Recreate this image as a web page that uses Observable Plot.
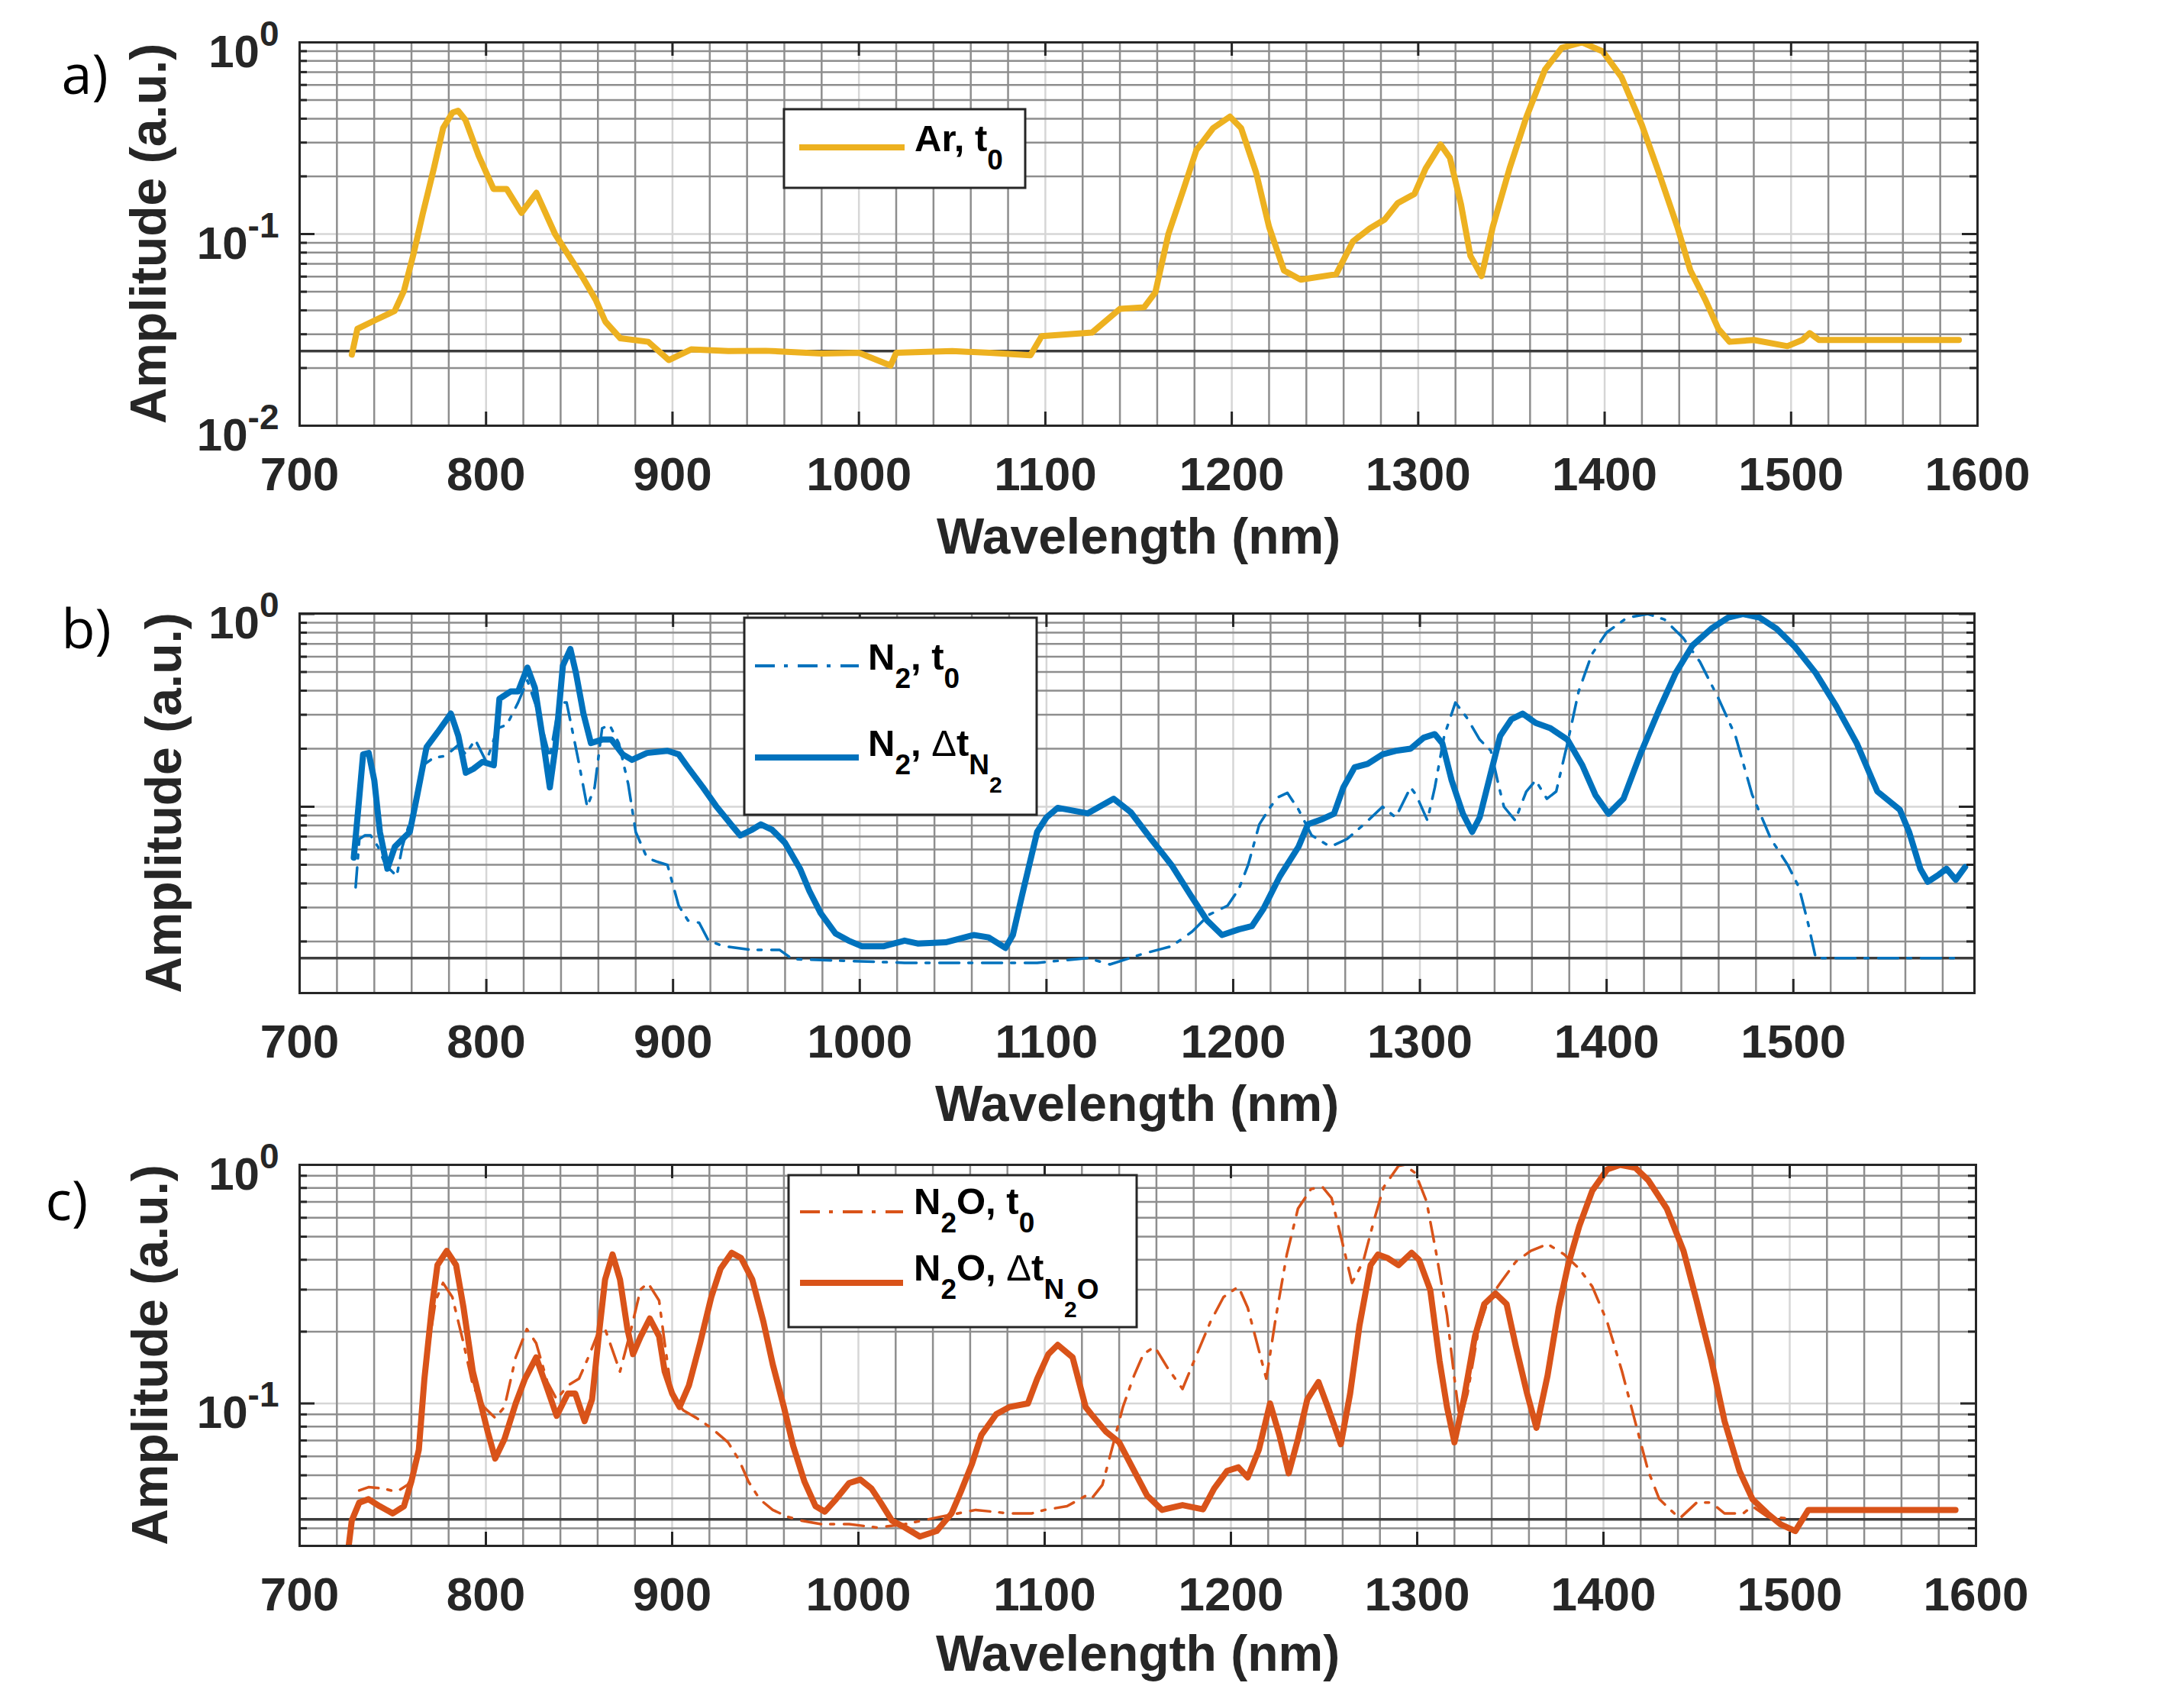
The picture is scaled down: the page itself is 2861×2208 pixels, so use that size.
<!DOCTYPE html>
<html><head><meta charset="utf-8">
<script src="https://cdn.jsdelivr.net/npm/d3@7"></script>
<script src="https://cdn.jsdelivr.net/npm/@observablehq/plot@0.6"></script>
<style>
html,body{margin:0;padding:0;background:#fff;overflow:hidden;}
#wrap{position:relative;width:2861px;height:2208px;background:#fff;overflow:hidden;}
#wrap svg{position:absolute;left:0;max-width:none !important;}
</style></head><body><div id="wrap"></div>
<script>
// ---------------- DATA ----------------
const xTickLabels = [700, 800, 900, 1000, 1100, 1200, 1300, 1400, 1500, 1600];
const xLabel = "Wavelength (nm)";
const yLabel = "Amplitude (a.u.)";
const panelTags = ["a)", "b)", "c)"];

// noise-floor reference lines (dark horizontal lines)
const floorA = [0.0245];
const floorB = [0.0164];
const floorC = [0.0327];

// (a) Ar, t0   [wavelength nm, amplitude]
const arT0 = [[728,0.0235],[731,0.032],[741,0.0357],[751,0.0397],[756,0.0507],[761,0.078],[766,0.127],[772,0.22],[777,0.358],[782,0.43],[785,0.44],[789,0.393],[796,0.257],[804,0.172],[811,0.172],[819,0.129],[827,0.164],[837,0.1],[852,0.059],[859,0.045],[864,0.0349],[872,0.0286],[887,0.0274],[898,0.022],[910,0.025],[930,0.0245],[950,0.0246],[980,0.0238],[1000,0.024],[1017,0.0206],[1020,0.024],[1050,0.0245],[1070,0.024],[1092,0.0233],[1098,0.0293],[1125,0.0306],[1140,0.0407],[1153,0.0415],[1159,0.0496],[1166,0.1],[1174,0.17],[1181,0.274],[1190,0.357],[1199,0.41],[1205,0.357],[1213,0.21],[1220,0.109],[1228,0.0645],[1237,0.0578],[1256,0.0617],[1265,0.0916],[1274,0.107],[1282,0.119],[1289,0.145],[1298,0.162],[1304,0.22],[1312,0.293],[1317,0.25],[1323,0.142],[1328,0.0769],[1334,0.0604],[1340,0.109],[1349,0.22],[1358,0.407],[1368,0.72],[1377,0.936],[1388,1.0],[1399,0.896],[1409,0.66],[1420,0.37],[1429,0.21],[1439,0.109],[1446,0.0645],[1454,0.0454],[1461,0.032],[1467,0.0274],[1480,0.028],[1498,0.026],[1506,0.028],[1510,0.0304],[1515,0.028],[1590,0.028]];

// (b) N2, t0 (dash-dot)
const n2T0 = [[730,0.0382],[732,0.068],[735,0.071],[738,0.071],[742,0.062],[746,0.0499],[752,0.0436],[755,0.062],[761,0.0966],[766,0.164],[772,0.18],[778,0.183],[785,0.209],[789,0.187],[794,0.223],[800,0.171],[806,0.255],[811,0.266],[817,0.347],[822,0.452],[828,0.304],[834,0.18],[839,0.347],[843,0.347],[849,0.18],[854,0.1],[858,0.126],[862,0.255],[866,0.266],[871,0.213],[876,0.131],[880,0.074],[886,0.0544],[891,0.052],[897,0.0499],[903,0.0307],[908,0.0257],[914,0.025],[919,0.0202],[927,0.0189],[942,0.0181],[957,0.0181],[964,0.0162],[1024,0.0155],[1095,0.0155],[1122,0.0164],[1134,0.0152],[1152,0.0173],[1167,0.0189],[1178,0.0225],[1187,0.0275],[1197,0.0307],[1203,0.0374],[1208,0.0499],[1214,0.081],[1220,0.1],[1224,0.112],[1229,0.118],[1235,0.0966],[1242,0.071],[1252,0.062],[1261,0.068],[1270,0.081],[1280,0.1],[1287,0.088],[1295,0.126],[1298,0.115],[1304,0.085],[1308,0.126],[1313,0.233],[1319,0.347],[1325,0.291],[1332,0.223],[1338,0.195],[1342,0.131],[1345,0.1],[1351,0.085],[1357,0.12],[1362,0.137],[1368,0.11],[1373,0.12],[1379,0.213],[1385,0.396],[1392,0.616],[1400,0.802],[1411,0.957],[1422,1.0],[1431,0.936],[1441,0.75],[1450,0.564],[1460,0.363],[1469,0.233],[1478,0.115],[1488,0.068],[1497,0.0499],[1503,0.0382],[1508,0.0246],[1512,0.0164],[1591,0.0164]];

// (b) N2, delta t_N2 (solid)
const n2Dt = [[729,0.0544],[731,0.0884],[734,0.187],[737,0.19],[740,0.137],[743,0.074],[747,0.0477],[751,0.062],[755,0.0678],[759,0.074],[763,0.115],[768,0.204],[774,0.244],[781,0.304],[785,0.233],[789,0.15],[793,0.157],[798,0.171],[804,0.164],[807,0.363],[813,0.396],[817,0.396],[822,0.527],[826,0.414],[830,0.233],[834,0.126],[837,0.204],[841,0.54],[845,0.658],[848,0.494],[852,0.304],[856,0.214],[862,0.223],[867,0.223],[873,0.187],[878,0.175],[886,0.19],[897,0.195],[903,0.187],[908,0.16],[916,0.126],[923,0.101],[931,0.081],[936,0.071],[942,0.0757],[947,0.081],[953,0.076],[960,0.0649],[968,0.0477],[973,0.0366],[979,0.0281],[987,0.022],[994,0.0202],[1001,0.0189],[1013,0.0189],[1024,0.0202],[1031,0.0195],[1046,0.0198],[1061,0.0216],[1069,0.021],[1078,0.0185],[1082,0.0216],[1087,0.035],[1095,0.074],[1100,0.088],[1106,0.0987],[1122,0.0924],[1136,0.110],[1145,0.094],[1156,0.068],[1167,0.0498],[1177,0.035],[1186,0.0257],[1194,0.0216],[1203,0.0231],[1210,0.024],[1216,0.0293],[1225,0.0436],[1235,0.062],[1240,0.081],[1248,0.0865],[1254,0.092],[1259,0.126],[1265,0.16],[1272,0.167],[1280,0.187],[1287,0.195],[1295,0.2],[1302,0.228],[1308,0.238],[1312,0.213],[1317,0.137],[1323,0.092],[1328,0.074],[1332,0.088],[1338,0.15],[1343,0.233],[1349,0.284],[1355,0.304],[1362,0.272],[1370,0.255],[1379,0.223],[1387,0.164],[1394,0.115],[1401,0.092],[1409,0.11],[1418,0.187],[1428,0.317],[1437,0.494],[1446,0.687],[1456,0.838],[1465,0.957],[1473,1.0],[1482,0.957],[1491,0.838],[1501,0.673],[1512,0.494],[1523,0.332],[1534,0.213],[1545,0.12],[1557,0.0966],[1562,0.074],[1568,0.0477],[1572,0.0408],[1578,0.0445],[1582,0.0477],[1587,0.0418],[1592,0.0487]];

// (c) N2O, t0 (dash-dot)
const n2oT0 = [[732,0.0432],[737,0.0446],[745,0.044],[752,0.0426],[758,0.0456],[762,0.052],[765,0.084],[769,0.167],[773,0.27],[777,0.32],[782,0.279],[788,0.179],[793,0.119],[799,0.0966],[805,0.087],[810,0.0966],[816,0.156],[822,0.205],[827,0.179],[833,0.123],[838,0.104],[844,0.119],[850,0.127],[855,0.156],[861,0.205],[864,0.205],[868,0.167],[872,0.136],[878,0.205],[883,0.3],[887,0.32],[893,0.27],[896,0.179],[900,0.107],[906,0.0936],[913,0.087],[921,0.079],[930,0.0687],[936,0.0578],[941,0.047],[947,0.0397],[954,0.0358],[962,0.0335],[969,0.0323],[980,0.0312],[995,0.0312],[1010,0.0302],[1025,0.0312],[1044,0.0335],[1063,0.0358],[1081,0.0346],[1093,0.0346],[1100,0.0358],[1112,0.0371],[1122,0.041],[1125,0.0397],[1131,0.0456],[1136,0.064],[1142,0.0966],[1148,0.131],[1153,0.161],[1159,0.173],[1166,0.141],[1174,0.115],[1181,0.156],[1189,0.22],[1196,0.279],[1204,0.309],[1209,0.252],[1215,0.167],[1219,0.127],[1224,0.227],[1230,0.421],[1236,0.656],[1243,0.792],[1249,0.81],[1254,0.727],[1260,0.466],[1265,0.32],[1271,0.393],[1277,0.593],[1282,0.806],[1290,0.99],[1293,1.0],[1299,0.924],[1305,0.703],[1310,0.436],[1316,0.235],[1320,0.127],[1323,0.084],[1327,0.11],[1333,0.205],[1338,0.27],[1346,0.331],[1353,0.393],[1361,0.436],[1370,0.466],[1379,0.421],[1387,0.367],[1394,0.309],[1402,0.22],[1410,0.136],[1417,0.084],[1424,0.0522],[1430,0.0397],[1436,0.0358],[1441,0.033],[1450,0.0384],[1458,0.0384],[1465,0.0346],[1475,0.0346],[1480,0.0371],[1488,0.0335],[1499,0.033]];

// (c) N2O, delta t_N2O (solid)
const n2oDt = [[726,0.024],[728,0.0323],[732,0.0384],[737,0.0397],[743,0.0371],[750,0.0346],[756,0.0371],[760,0.0471],[764,0.064],[767,0.127],[771,0.252],[774,0.38],[779,0.436],[784,0.38],[788,0.252],[793,0.136],[801,0.076],[805,0.0588],[810,0.071],[816,0.1],[821,0.127],[827,0.156],[833,0.115],[838,0.0887],[844,0.11],[848,0.11],[853,0.0843],[857,0.104],[861,0.205],[864,0.331],[868,0.421],[872,0.331],[876,0.205],[879,0.161],[883,0.19],[888,0.227],[893,0.191],[896,0.136],[900,0.11],[904,0.0966],[909,0.119],[915,0.179],[921,0.279],[926,0.367],[932,0.428],[937,0.407],[943,0.331],[949,0.22],[954,0.146],[960,0.0966],[965,0.0663],[971,0.0471],[977,0.0371],[982,0.0352],[988,0.0397],[995,0.0464],[1001,0.048],[1007,0.044],[1012,0.0384],[1018,0.0323],[1025,0.0302],[1033,0.0277],[1042,0.0292],[1050,0.0346],[1055,0.0427],[1061,0.0559],[1066,0.0737],[1074,0.0902],[1081,0.0966],[1091,0.1],[1096,0.127],[1102,0.161],[1107,0.176],[1115,0.156],[1122,0.0966],[1125,0.0902],[1133,0.076],[1140,0.0687],[1148,0.0522],[1155,0.0411],[1163,0.0358],[1174,0.0375],[1185,0.036],[1191,0.044],[1198,0.0522],[1204,0.054],[1209,0.049],[1215,0.064],[1221,0.1],[1226,0.0737],[1231,0.051],[1236,0.071],[1241,0.104],[1247,0.123],[1252,0.0966],[1259,0.0675],[1264,0.11],[1269,0.212],[1275,0.38],[1279,0.421],[1284,0.407],[1290,0.38],[1297,0.428],[1301,0.4],[1307,0.299],[1312,0.151],[1316,0.0966],[1320,0.0687],[1325,0.104],[1331,0.191],[1336,0.261],[1342,0.289],[1348,0.261],[1353,0.173],[1359,0.11],[1364,0.0791],[1370,0.131],[1376,0.252],[1381,0.38],[1387,0.553],[1394,0.779],[1402,0.956],[1409,1.0],[1417,0.973],[1424,0.863],[1434,0.656],[1443,0.436],[1450,0.27],[1458,0.151],[1465,0.0843],[1473,0.0522],[1480,0.0397],[1488,0.0346],[1495,0.0312],[1503,0.0292],[1510,0.0358],[1589,0.0358]];

// ---------------- STYLE ----------------
const FONT = "Arial, 'Liberation Sans', Helvetica, sans-serif";
const AX = "#262626";
const YELLOW = "#EDB120", BLUE = "#0072BD", ORANGE = "#D95319";
const DASHDOT = "26,12,5,13";
const W_TOTAL = 2861;
const NS = "http://www.w3.org/2000/svg";

function logMinor(lo, hi) {
  const out = [];
  for (let e = -3; e <= 1; e++) for (let m = 2; m <= 9; m++) {
    const v = m * Math.pow(10, e);
    if (v > lo && v < hi) out.push(v);
  }
  return out;
}
function logMajor(lo, hi) {
  const out = [];
  for (let e = -3; e <= 1; e++) { const v = Math.pow(10, e); if (v >= lo * 0.999 && v <= hi * 1.001) out.push(v); }
  return out;
}

function makePanel(cfg) {
  const H = cfg.height - cfg.marginTop - cfg.marginBottom;
  const Wp = W_TOTAL - cfg.marginLeft - cfg.marginRight;
  const [x0, x1] = cfg.xDomain;
  const [y0, y1] = cfg.yDomain;
  const xMajor = xTickLabels.filter(v => v >= x0 && v <= x1);
  const xMinor = d3.range(x0, x1 + 0.01, 20).filter(v => v % 100 !== 0 && v > x0 && v < x1);
  const yMaj = logMajor(y0, y1);
  const yMin = logMinor(y0, y1);
  const yMajInner = yMaj.filter(v => v > y0 * 1.01 && v < y1 * 0.99);
  const marks = [
    Plot.ruleX(xMajor.filter(v => v > x0 && v < x1), {x: d => d, stroke: "#d6d6d6", strokeWidth: 2.5}),
    Plot.ruleY(yMajInner, {y: d => d, stroke: "#d6d6d6", strokeWidth: 2.5}),
    Plot.ruleX(xMinor, {x: d => d, stroke: "#8e8e8e", strokeWidth: 2.5}),
    Plot.ruleY(yMin, {y: d => d, stroke: "#8e8e8e", strokeWidth: 2.5}),
    Plot.ruleY(cfg.floor, {y: d => d, stroke: "#3c3c3c", strokeWidth: 3.5}),
  ];
  for (const s of cfg.series) {
    marks.push(Plot.line(s.data, {x: d => d[0], y: d => d[1], stroke: s.color, strokeWidth: s.width,
      strokeDasharray: s.dash || null, clip: true, strokeLinejoin: "round"}));
  }
  marks.push(
    Plot.tickX(xMajor, {x: d => d, insetTop: H - 18, stroke: AX, strokeWidth: 3}),
    Plot.tickX(xMajor, {x: d => d, insetBottom: H - 18, stroke: AX, strokeWidth: 3}),
    Plot.tickY(yMaj, {y: d => d, insetRight: Wp - 20, stroke: AX, strokeWidth: 3}),
    Plot.tickY(yMaj, {y: d => d, insetLeft: Wp - 20, stroke: AX, strokeWidth: 3}),
    Plot.tickY(yMin, {y: d => d, insetRight: Wp - 10, stroke: AX, strokeWidth: 3}),
    Plot.tickY(yMin, {y: d => d, insetLeft: Wp - 10, stroke: AX, strokeWidth: 3}),
    Plot.frame({stroke: AX, strokeWidth: 3}),
    Plot.axisX(xMajor, {tickSize: 0, tickPadding: 40, fontSize: 62, fontWeight: "bold", fill: AX, label: null,
      tickFormat: d => String(d)}),
    Plot.axisY(cfg.yLabeled, {tickSize: 0, tickPadding: 27, fontSize: 60, fontWeight: "bold", fill: AX, label: null,
      tickFormat: d => "10^" + Math.round(Math.log10(d))}),
    Plot.text([xLabel], {text: d => d, frameAnchor: "bottom", lineAnchor: "middle", dy: cfg.xLabelDy, fontSize: 66, fontWeight: "bold", fill: AX}),
    Plot.text([cfg.tag], {text: d => d, frameAnchor: "top-left", lineAnchor: "middle", textAnchor: "start", dx: cfg.tagDx, dy: cfg.tagDy,
      fontSize: 72, fontWeight: "normal", fill: "#000", fontFamily: "'Open Sans', 'Noto Sans', sans-serif"})
  );
  const svg = Plot.plot({
    width: W_TOTAL, height: cfg.height,
    marginTop: cfg.marginTop, marginBottom: cfg.marginBottom, marginLeft: cfg.marginLeft, marginRight: cfg.marginRight,
    x: {domain: cfg.xDomain},
    y: {type: "log", domain: cfg.yDomain},
    style: {fontFamily: FONT, background: "transparent", overflow: "visible"},
    marks
  });
  svg.style.top = cfg.top + "px";
  svg.querySelectorAll('[aria-label="y-axis tick label"] text').forEach(t => {
    const m = (t.textContent || "").match(/^10\^(.+)$/);
    if (!m) return;
    t.textContent = "";
    const a = document.createElementNS(NS, "tspan"); a.textContent = "10"; a.setAttribute("dy", 13);
    const b = document.createElementNS(NS, "tspan"); b.textContent = m[1]; b.setAttribute("dy", -28); b.setAttribute("font-size", 46);
    t.append(a, b);
  });
  const sel = d3.select(svg);
  // rotated y-axis title
  sel.append("text").attr("transform", `translate(${cfg.yLabelX},${cfg.marginTop + H / 2}) rotate(-90)`)
    .attr("text-anchor", "middle").attr("dy", "0.36em").attr("font-family", FONT).attr("font-weight", "bold")
    .attr("font-size", 66).attr("fill", AX).text(yLabel);
  // legend
  const g = sel.append("g").attr("font-family", FONT).attr("font-weight", "bold")
    .attr("fill", "#000").attr("text-anchor", "start");
  const L = cfg.legend;
  g.append("rect").attr("x", L.x).attr("y", L.y).attr("width", L.w).attr("height", L.h)
    .attr("fill", "#fff").attr("stroke", AX).attr("stroke-width", 3);
  const lvlSize = [49, 37, 30], lvlOff = [0, 24, 48];
  for (const e of L.entries) {
    g.append("line").attr("x1", L.lx1).attr("x2", L.lx2).attr("y1", e.ly).attr("y2", e.ly)
      .attr("stroke", e.color).attr("stroke-width", e.width).attr("stroke-dasharray", e.dash || null);
    const t = g.append("text").attr("x", L.tx).attr("y", e.ty).attr("font-size", 49).attr("text-anchor", "start");
    let prev = 0;
    for (const [str, lvl, w] of e.parts) {
      t.append("tspan").text(str).attr("dy", lvlOff[lvl] - lvlOff[prev]).attr("font-size", lvlSize[lvl])
        .attr("font-weight", w || "bold");
      prev = lvl;
    }
  }
  document.getElementById("wrap").appendChild(svg);
}

makePanel({
  top: 0, height: 760, marginTop: 55, marginBottom: 203, marginLeft: 392, marginRight: 271,
  xDomain: [700, 1600], yDomain: [0.01, 1], yLabeled: [1, 0.1, 0.01], floor: floorA,
  yLabelX: 193, xLabelDy: 146, tag: panelTags[0], tagDx: -312, tagDy: 44,
  series: [{data: arT0, color: YELLOW, width: 8}],
  legend: {x: 1027, y: 143, w: 316, h: 103, lx1: 1047, lx2: 1185, tx: 1198,
    entries: [{ly: 193, ty: 198, color: YELLOW, width: 8, parts: [["Ar, t", 0], ["0", 1]]}]}
});
makePanel({
  top: 760, height: 720, marginTop: 43, marginBottom: 180, marginLeft: 392, marginRight: 275,
  xDomain: [700, 1597], yDomain: [0.0108, 1.005], yLabeled: [1], floor: floorB,
  yLabelX: 213, xLabelDy: 146, tag: panelTags[1], tagDx: -312, tagDy: 22,
  series: [{data: n2T0, color: BLUE, width: 3.5, dash: DASHDOT}, {data: n2Dt, color: BLUE, width: 8}],
  legend: {x: 975, y: 49, w: 383, h: 258, lx1: 989, lx2: 1125, tx: 1137,
    entries: [
      {ly: 112, ty: 117, color: BLUE, width: 4, dash: DASHDOT, parts: [["N", 0], ["2", 1], [", t", 0], ["0", 1]]},
      {ly: 232, ty: 230, color: BLUE, width: 8, parts: [["N", 0], ["2", 1], [", ", 0], ["\u0394", 0, "normal"], ["t", 0], ["N", 1], ["2", 2]]}
    ]}
});
makePanel({
  top: 1480, height: 728, marginTop: 45, marginBottom: 184, marginLeft: 392, marginRight: 273,
  xDomain: [700, 1600], yDomain: [0.0253, 1], yLabeled: [1, 0.1], floor: floorC,
  yLabelX: 195, xLabelDy: 142, tag: panelTags[2], tagDx: -333, tagDy: 49,
  series: [{data: n2oT0, color: ORANGE, width: 3.5, dash: DASHDOT}, {data: n2oDt, color: ORANGE, width: 8}],
  legend: {x: 1033, y: 59, w: 456, h: 199, lx1: 1048, lx2: 1183, tx: 1197,
    entries: [
      {ly: 107, ty: 110, color: ORANGE, width: 4, dash: DASHDOT, parts: [["N", 0], ["2", 1], ["O, t", 0], ["0", 1]]},
      {ly: 200, ty: 197, color: ORANGE, width: 8, parts: [["N", 0], ["2", 1], ["O, ", 0], ["\u0394", 0, "normal"], ["t", 0], ["N", 1], ["2", 2], ["O", 1]]}
    ]}
});
</script>
</body></html>
